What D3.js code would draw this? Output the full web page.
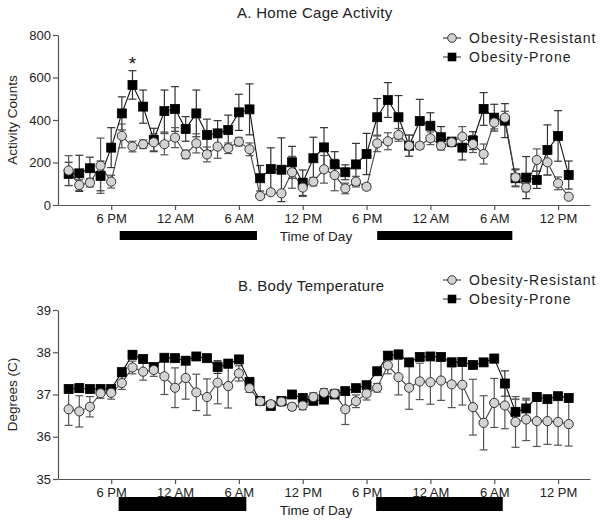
<!DOCTYPE html>
<html><head><meta charset="utf-8">
<script src="https://cdn.jsdelivr.net/npm/d3@7"></script>
<style>
html,body{margin:0;padding:0;background:#fff;}
svg text{font-family:Arial,"Liberation Sans",sans-serif;}
</style></head>
<body>
<svg id="chart" width="602" height="523"></svg>
<script>
// ---- data ----
const hours = d3.range(14, 62); // 2 PM day 1 .. 1 PM day 3 (hour index)
const tickHours = [18, 24, 30, 36, 42, 48, 54, 60];
const tickLabels = ["6 PM", "12 AM", "6 AM", "12 PM", "6 PM", "12 AM", "6 AM", "12 PM"];
const seriesNames = ["Obesity-Resistant", "Obesity-Prone"];

const actResist = [162,94,105,185,110,325,275,286,295,286,317,238,290,238,275,267,298,262,42,60,55,154,
  82,110,168,141,78,110,86,290,300,330,279,279,314,279,295,322,287,240,388,411,130,82,212,201,102,39];
const actResistErr = [70,25,20,130,30,56,25,20,40,50,47,20,45,35,55,25,20,30,10,10,10,75,
  42,20,65,74,25,25,15,39,40,30,50,15,30,20,20,47,40,47,30,30,40,20,52,60,30,10];
const actProne = [146,149,173,137,270,431,565,463,306,442,452,358,431,330,337,353,436,450,126,169,166,201,
  105,220,271,191,154,191,240,413,494,413,279,395,373,319,298,270,303,452,411,397,126,129,118,259,325,141];
const actProneErr = [55,85,52,70,94,78,67,78,55,99,105,58,110,74,60,70,85,120,60,100,150,75,
  60,99,93,60,35,99,97,88,82,102,50,102,61,50,20,58,42,77,63,80,40,99,40,118,119,66];

const tempResist = [36.65,36.60,36.71,37.03,37.04,37.27,37.64,37.54,37.58,37.43,37.16,37.39,37.05,36.94,37.28,37.20,37.50,37.15,36.84,36.77,36.83,36.71,
  36.74,36.94,37.04,37.02,36.65,36.84,37.02,37.16,37.69,37.41,37.16,37.31,37.29,37.33,37.24,37.23,36.70,36.33,36.80,36.74,36.35,36.41,36.37,36.37,36.35,36.30];
const tempResistErr = [0.38,0.37,0.24,0.12,0.15,0.15,0.15,0.2,0.15,0.43,0.47,0.5,0.43,0.43,0.5,0.52,0.18,0.1,0.05,0.08,0.1,0.08,
  0.1,0.1,0.1,0.1,0.36,0.15,0.15,0.1,0.2,0.42,0.51,0.43,0.52,0.47,0.55,0.48,0.66,0.64,0.58,0.55,0.6,0.5,0.6,0.55,0.55,0.52];
const tempProne = [37.13,37.15,37.13,37.13,37.13,37.53,37.94,37.84,37.65,37.87,37.86,37.80,37.90,37.86,37.65,37.73,37.83,37.30,36.85,36.73,36.85,37.0,
  36.92,36.85,36.88,37.0,37.08,37.15,37.22,37.55,37.92,37.95,37.76,37.89,37.90,37.89,37.76,37.77,37.70,37.76,37.85,37.26,36.59,36.67,36.94,36.89,36.96,36.92];
const tempProneErr = [0.08,0.1,0.08,0.06,0.06,0.06,0.1,0.08,0.06,0.06,0.06,0.08,0.06,0.06,0.15,0.1,0.08,0.08,0.05,0.05,0.05,0.06,
  0.06,0.05,0.05,0.06,0.06,0.06,0.06,0.06,0.08,0.06,0.06,0.06,0.06,0.08,0.1,0.06,0.08,0.06,0.1,0.3,0.3,0.2,0.1,0.08,0.06,0.06];

const activityTicks = [0, 200, 400, 600, 800];
const tempTicks = [35, 36, 37, 38, 39];
const darkA = [[18.8, 31.7], [43, 55.7]];
const darkB = [[18.7, 30.7], [42.9, 54.8]];
const starHour = 20;

// ---- drawing ----
const svg = d3.select("#chart");
const x = d3.scaleLinear().domain([13, 63]).range([58, 590]);
const axisColor = "#555";

function panel(cfg) {
  const g = svg.append("g");
  const y = d3.scaleLinear().domain(cfg.domain).range([cfg.y0, cfg.y1]);

  // axes
  const xa = g.append("g").attr("transform", `translate(0,${cfg.y0})`)
    .call(d3.axisBottom(x).tickValues(tickHours).tickFormat((d, i) => tickLabels[i]).tickSize(5).tickSizeOuter(0));
  const ya = g.append("g").attr("transform", `translate(58,0)`)
    .call(d3.axisLeft(y).tickValues(cfg.ticks).tickFormat(d3.format("d")).tickSize(5).tickSizeOuter(0));
  [xa, ya].forEach(a => {
    a.selectAll("path,line").attr("stroke", axisColor).attr("stroke-width", 1.2);
    a.selectAll("text").attr("fill", "#222").style("font-size", "13px").style("font-family", "Arial,'Liberation Sans',sans-serif");
  });
  xa.selectAll("text").attr("dy", "0.95em").attr("y", 6);
  ya.selectAll("text").attr("x", -7);

  // titles
  g.append("text").attr("x", cfg.titleX).attr("y", cfg.titleY).attr("fill", "#222")
    .style("font-size", "15px").style("letter-spacing", "0.3px").text(cfg.title);
  g.append("text").attr("transform", `translate(17,${(cfg.y0 + cfg.y1) / 2}) rotate(-90)`)
    .attr("text-anchor", "middle").attr("fill", "#222").style("font-size", "13.5px").text(cfg.ylabel);
  g.append("text").attr("x", 316).attr("y", cfg.y0 + 36).attr("text-anchor", "middle")
    .attr("fill", "#222").style("font-size", "13.5px").text("Time of Day");

  // dark-phase bars
  g.selectAll("rect.dark").data(cfg.dark).enter().append("rect")
    .attr("x", d => x(d[0])).attr("width", d => x(d[1]) - x(d[0]))
    .attr("y", cfg.barY).attr("height", cfg.barH).attr("fill", "#000");

  const series = [
    {vals: cfg.prone, err: cfg.proneErr, kind: "sq", line: "#111", ebar: "#333"},
    {vals: cfg.resist, err: cfg.resistErr, kind: "ci", line: "#444", ebar: "#555"}
  ];
  series.forEach(s => {
    const pts = hours.map((h, i) => ({h, v: s.vals[i], e: s.err[i]}));
    const eb = g.append("g");
    pts.forEach(p => {
      eb.append("line").attr("x1", x(p.h)).attr("x2", x(p.h))
        .attr("y1", y(p.v - p.e)).attr("y2", y(p.v + p.e)).attr("stroke", s.ebar).attr("stroke-width", 1.2);
      [p.v - p.e, p.v + p.e].forEach(v => eb.append("line")
        .attr("x1", x(p.h) - 4).attr("x2", x(p.h) + 4).attr("y1", y(v)).attr("y2", y(v))
        .attr("stroke", s.ebar).attr("stroke-width", 1.2));
    });
  });
  series.forEach(s => {
    const pts = hours.map((h, i) => ({h, v: s.vals[i]}));
    g.append("path").datum(pts).attr("fill", "none").attr("stroke", s.line).attr("stroke-width", 1.1)
      .attr("d", d3.line().x(d => x(d.h)).y(d => y(d.v)));
  });
  series.forEach(s => {
    const pts = hours.map((h, i) => ({h, v: s.vals[i]}));
    if (s.kind === "sq") {
      g.selectAll(null).data(pts).enter().append("rect")
        .attr("x", d => x(d.h) - 4.5).attr("y", d => y(d.v) - 4.5).attr("width", 9).attr("height", 9)
        .attr("fill", "#000").attr("stroke", "#000").attr("stroke-width", 0.8);
    } else {
      g.selectAll(null).data(pts).enter().append("circle")
        .attr("cx", d => x(d.h)).attr("cy", d => y(d.v)).attr("r", 4.6)
        .attr("fill", "#d3d3d3").attr("stroke", "#333").attr("stroke-width", 1);
    }
  });

  // legend
  const lg = g.append("g");
  const lx = 452;
  [[0, "ci"], [1, "sq"]].forEach(([i, kind]) => {
    const ly = cfg.legY + i * 19;
    lg.append("line").attr("x1", lx - 9).attr("x2", lx + 9).attr("y1", ly).attr("y2", ly).attr("stroke", "#333").attr("stroke-width", 1.1);
    if (kind === "ci") lg.append("circle").attr("cx", lx).attr("cy", ly).attr("r", 4.3).attr("fill", "#d3d3d3").attr("stroke", "#333");
    else lg.append("rect").attr("x", lx - 4.3).attr("y", ly - 4.3).attr("width", 8.6).attr("height", 8.6).attr("fill", "#000");
    lg.append("text").attr("x", 469).attr("y", ly + 5).attr("fill", "#222")
      .style("font-size", "14px").style("letter-spacing", "1px").text(seriesNames[i]);
  });
  return {g, y};
}

const A = panel({
  domain: [0, 800], y0: 205, y1: 35, ticks: activityTicks, title: "A. Home Cage Activity",
  titleX: 237, titleY: 18, ylabel: "Activity Counts", dark: darkA, barY: 231, barH: 9,
  prone: actProne, proneErr: actProneErr, resist: actResist, resistErr: actResistErr, legY: 38
});
A.g.append("text").attr("x", x(starHour)).attr("y", A.y(actProne[hours.indexOf(starHour)] + actProneErr[hours.indexOf(starHour)]) - 1)
  .attr("text-anchor", "middle").attr("fill", "#111").style("font-size", "19px").text("*");

panel({
  domain: [35, 39], y0: 479, y1: 310, ticks: tempTicks, title: "B. Body Temperature",
  titleX: 238, titleY: 291, ylabel: "Degrees (C)", dark: darkB, barY: 497, barH: 14,
  prone: tempProne, proneErr: tempProneErr, resist: tempResist, resistErr: tempResistErr, legY: 280
});
</script>
</body></html>
